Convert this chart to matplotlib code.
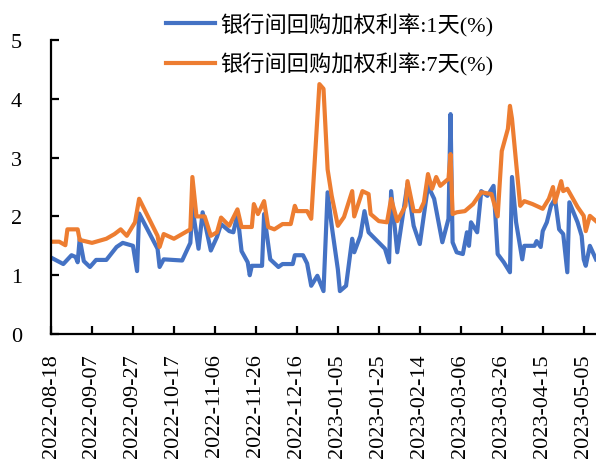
import matplotlib
matplotlib.use("Agg")
import matplotlib.pyplot as plt
import matplotlib.dates as mdates
import pandas as pd

# Interbank repo weighted rate, overnight (1D)
dates_1d = [
    "2022-08-18", "2022-08-24", "2022-08-28", "2022-08-30", "2022-08-31", "2022-09-01",
    "2022-09-03", "2022-09-06", "2022-09-09", "2022-09-14", "2022-09-19", "2022-09-22",
    "2022-09-27", "2022-09-29", "2022-09-30", "2022-10-09", "2022-10-10", "2022-10-12",
    "2022-10-21", "2022-10-25", "2022-10-26", "2022-10-29", "2022-10-31", "2022-11-04",
    "2022-11-07", "2022-11-09", "2022-11-13", "2022-11-15", "2022-11-17", "2022-11-19",
    "2022-11-22", "2022-11-23", "2022-11-24", "2022-11-29", "2022-11-30", "2022-12-03",
    "2022-12-07", "2022-12-09", "2022-12-14", "2022-12-15", "2022-12-19", "2022-12-21",
    "2022-12-23", "2022-12-26", "2022-12-29", "2022-12-31", "2023-01-02", "2023-01-05",
    "2023-01-06", "2023-01-09", "2023-01-12", "2023-01-13", "2023-01-16", "2023-01-18",
    "2023-01-20", "2023-01-28", "2023-01-30", "2023-01-31", "2023-02-03", "2023-02-08",
    "2023-02-11", "2023-02-14", "2023-02-18", "2023-02-21", "2023-02-25", "2023-02-28",
    "2023-03-01", "2023-03-02", "2023-03-04", "2023-03-07", "2023-03-09", "2023-03-10",
    "2023-03-11", "2023-03-14", "2023-03-16", "2023-03-19", "2023-03-22", "2023-03-24",
    "2023-03-27", "2023-03-30", "2023-03-31", "2023-04-02", "2023-04-05", "2023-04-06",
    "2023-04-11", "2023-04-12", "2023-04-14", "2023-04-15", "2023-04-17", "2023-04-19",
    "2023-04-21", "2023-04-23", "2023-04-25", "2023-04-27", "2023-04-28", "2023-05-02",
    "2023-05-04", "2023-05-05", "2023-05-06", "2023-05-08", "2023-05-11",
]
rate_1d = [
    1.30, 1.19, 1.34, 1.31, 1.22, 1.62,
    1.24, 1.14, 1.26, 1.26, 1.48, 1.55,
    1.50, 1.07, 2.05, 1.45, 1.14, 1.27,
    1.25, 1.55, 2.15, 1.45, 2.07, 1.42,
    1.65, 1.87, 1.75, 1.73, 2.04, 1.41,
    1.22, 1.00, 1.16, 1.16, 2.04, 1.27,
    1.14, 1.19, 1.19, 1.34, 1.34, 1.20,
    0.82, 0.99, 0.73, 2.41, 1.84, 1.10,
    0.73, 0.82, 1.62, 1.39, 1.67, 2.09,
    1.73, 1.45, 1.22, 2.43, 1.39, 2.55,
    1.84, 1.53, 2.52, 2.30, 1.56, 1.96,
    3.74, 1.56, 1.39, 1.36, 1.73, 1.50,
    1.90, 1.73, 2.43, 2.35, 2.52, 1.36,
    1.22, 1.05, 2.67, 1.90, 1.27, 1.50,
    1.50, 1.58, 1.48, 1.75, 1.90, 2.18,
    2.30, 1.78, 1.70, 1.05, 2.24, 1.90,
    1.67, 1.27, 1.16, 1.50, 1.27,
]

# Interbank repo weighted rate, 7-day (7D)
dates_7d = [
    "2022-08-18", "2022-08-22", "2022-08-25", "2022-08-26", "2022-08-31", "2022-09-01",
    "2022-09-07", "2022-09-14", "2022-09-18", "2022-09-21", "2022-09-24", "2022-09-28",
    "2022-09-30", "2022-10-09", "2022-10-10", "2022-10-12", "2022-10-17", "2022-10-25",
    "2022-10-26", "2022-10-28", "2022-11-01", "2022-11-04", "2022-11-07", "2022-11-09",
    "2022-11-13", "2022-11-17", "2022-11-19", "2022-11-24", "2022-11-25", "2022-11-27",
    "2022-11-30", "2022-12-02", "2022-12-05", "2022-12-09", "2022-12-13", "2022-12-15",
    "2022-12-16", "2022-12-21", "2022-12-23", "2022-12-27", "2022-12-29", "2022-12-31",
    "2023-01-02", "2023-01-05", "2023-01-08", "2023-01-12", "2023-01-13", "2023-01-17",
    "2023-01-20", "2023-01-21", "2023-01-25", "2023-01-29", "2023-01-31", "2023-02-03",
    "2023-02-07", "2023-02-08", "2023-02-11", "2023-02-14", "2023-02-16", "2023-02-18",
    "2023-02-20", "2023-02-22", "2023-02-24", "2023-02-28", "2023-03-01", "2023-03-02",
    "2023-03-04", "2023-03-08", "2023-03-12", "2023-03-16", "2023-03-21", "2023-03-24",
    "2023-03-26", "2023-03-29", "2023-03-30", "2023-03-31", "2023-04-02", "2023-04-04",
    "2023-04-06", "2023-04-10", "2023-04-15", "2023-04-18", "2023-04-20", "2023-04-21",
    "2023-04-24", "2023-04-25", "2023-04-27", "2023-05-02", "2023-05-05", "2023-05-06",
    "2023-05-08", "2023-05-11",
]
rate_7d = [
    1.57, 1.57, 1.51, 1.78, 1.78, 1.60,
    1.55, 1.62, 1.70, 1.78, 1.67, 1.90,
    2.30, 1.67, 1.48, 1.70, 1.62, 1.78,
    2.67, 2.00, 2.00, 1.67, 1.73, 1.98,
    1.84, 2.12, 1.82, 1.82, 2.21, 2.04,
    2.26, 1.82, 1.78, 1.87, 1.87, 2.18,
    2.09, 2.09, 1.96, 4.25, 4.17, 2.80,
    2.35, 1.84, 1.99, 2.43, 2.00, 2.43,
    2.38, 2.04, 1.92, 1.90, 2.30, 1.92,
    2.18, 2.60, 2.09, 2.09, 2.24, 2.72,
    2.47, 2.67, 2.52, 2.64, 3.06, 2.04,
    2.07, 2.09, 2.21, 2.41, 2.38, 2.00,
    3.11, 3.49, 3.88, 3.66, 2.92, 2.18,
    2.26, 2.21, 2.13, 2.30, 2.50, 2.24,
    2.60, 2.43, 2.47, 2.16, 2.01, 1.75,
    2.01, 1.92,
]

labels = ["银行间回购加权利率:1天(%)", "银行间回购加权利率:7天(%)"]
colors = ["#4472C4", "#ED7D31"]

tick_start = "2022-08-18"
tick_count = 14
tick_step_days = 20
x_end = "2023-05-11"

serif = ["Liberation Serif", "Noto Sans CJK SC"]
plt.rcParams["font.family"] = serif

fig = plt.figure(figsize=(5.96, 4.64), dpi=100)
ax = fig.add_axes([0.0856, 0.278, 0.9144, 0.6336])

x1 = pd.to_datetime(dates_1d)
x7 = pd.to_datetime(dates_7d)
l1, = ax.plot(x1, rate_1d, color=colors[0], lw=3.0, solid_joinstyle="round")
l7, = ax.plot(x7, rate_7d, color=colors[1], lw=3.0, solid_joinstyle="round")

ticks = pd.date_range(tick_start, periods=tick_count, freq=f"{tick_step_days}D")
ax.set_xticks(ticks)
ax.xaxis.set_major_formatter(mdates.DateFormatter("%Y-%m-%d"))
ax.set_xlim(pd.Timestamp(tick_start), pd.Timestamp(x_end))
ax.set_ylim(0, 5)
ax.set_yticks([0, 1, 2, 3, 4, 5])

for s in ["top", "right"]:
    ax.spines[s].set_visible(False)
for s in ["left", "bottom"]:
    ax.spines[s].set_linewidth(1.6)
    ax.spines[s].set_color("black")

ax.tick_params(axis="both", direction="in", length=6, width=1.6, colors="black")
ax.tick_params(axis="y", pad=21, labelsize=16)
ax.tick_params(axis="x", pad=14, labelsize=16, labelrotation=90)
for t in ax.get_yticklabels():
    t.set_horizontalalignment("right")

leg = fig.legend(
    [l1, l7], labels,
    loc="upper left", bbox_to_anchor=(0.263, 0.99),
    frameon=False, handlelength=2.2, handletextpad=0.25,
    labelspacing=0.72, borderaxespad=0.0,
    prop={"family": ["Liberation Serif", "Noto Sans CJK SC"], "size": 16, "weight": "medium"},
)

fig.savefig("out.png", dpi=100)
